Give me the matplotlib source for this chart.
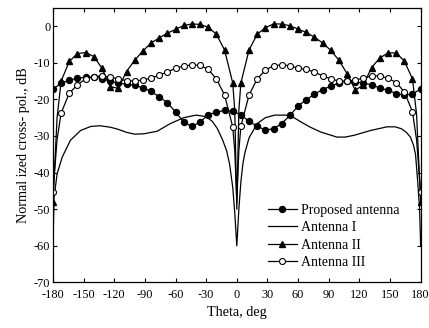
import numpy as np
import matplotlib
matplotlib.use("Agg")
import matplotlib.pyplot as plt

plt.rcParams['font.family'] = ['Liberation Serif', 'DejaVu Serif']
plt.rcParams['axes.unicode_minus'] = False

# Proposed antenna (markers every 8 deg)
th_p = [-180, -172, -164, -156, -148, -140, -132, -124, -116, -108, -100, -92, -84, -76,
        -68, -60, -52, -44, -36, -28, -20, -12, -4, 4, 12, 20, 28, 36, 44, 52, 60, 68,
        76, 84, 92, 100, 108, 116, 124, 132, 140, 148, 156, 164, 172, 180]
v_p = [-17.2, -15.6, -14.8, -14.2, -14.0, -13.9, -14.3, -15.0, -15.6, -15.8, -16.2, -16.8,
       -17.8, -19.3, -20.9, -23.4, -26.2, -27.4, -26.2, -24.2, -23.5, -23.0, -23.3, -24.2,
       -26.0, -27.3, -28.4, -28.0, -26.6, -24.4, -21.8, -20.1, -18.6, -17.3, -16.4, -15.5,
       -15.0, -15.2, -15.6, -16.0, -16.9, -17.5, -18.4, -18.8, -18.5, -17.2]

# Antenna I (no markers)
th_1 = [-180, -179, -176, -171, -163, -153, -143, -134, -124, -117, -108, -100, -91, -78,
        -65, -52, -40, -30, -24, -19, -14, -10, -7, -4, -2, 0, 2, 4, 6, 8, 12, 20, 28, 37,
        48, 56, 63, 72, 82, 98, 106, 115, 131, 147, 155, 161, 166, 170, 173, 175, 177, 179, 180]
v_1 = [-60, -47, -40.4, -35.8, -31.2, -28.5, -27.4, -27.2, -27.6, -28.1, -29.0, -29.5, -29.4,
       -28.7, -26.6, -25.0, -24.3, -24.7, -26.0, -28.0, -31.0, -34.0, -37.8, -44, -51, -60,
       -50, -42.5, -37.5, -34.5, -30.5, -26.6, -25.0, -24.3, -24.3, -25.0, -26.2, -27.6, -28.9,
       -30.3, -30.3, -29.8, -28.5, -27.5, -27.5, -28.0, -29.0, -30.3, -32.5, -35.0, -42, -50, -60]

# Antenna II (markers every 8 deg, extra points at the nulls)
th_2 = [-180, -176, -172, -164, -156, -148, -140, -132, -124, -116, -108, -100, -92, -84, -76,
        -68, -60, -52, -44, -36, -28, -20, -12, -4, -2, 0, 2, 4, 12, 20, 28, 36, 44, 52, 60, 68,
        76, 84, 92, 100, 108, 116, 124, 132, 140, 148, 156, 164, 172, 176, 180]
v_2 = [-48, -25, -15.0, -9.6, -7.5, -7.2, -8.3, -11.5, -16.5, -17.0, -12.4, -9.3, -6.8, -4.6,
       -3.2, -1.9, -0.9, 0.2, 0.6, 0.5, -0.3, -2.2, -6.5, -15.5, -23, -50, -23, -15.5, -6.5,
       -2.2, -0.4, 0.6, 0.6, 0.1, -0.8, -1.7, -3.0, -4.6, -6.6, -9.3, -13.0, -17.5, -16.0,
       -11.3, -8.7, -7.3, -7.3, -9.5, -14.4, -24, -48]

# Antenna III
th_3 = [-180, -176, -172, -164, -156, -148, -140, -132, -124, -116, -108, -100, -92, -84, -76,
        -68, -60, -52, -44, -36, -28, -20, -12, -4, -2, 0, 2, 4, 12, 20, 28, 36, 44, 52, 60, 68,
        76, 84, 92, 100, 108, 116, 124, 132, 140, 148, 156, 164, 172, 176, 180]
v_3 = [-45.4, -31, -23.7, -18.3, -16.0, -14.4, -13.8, -13.6, -13.9, -14.4, -14.9, -15.0, -14.7,
       -14.2, -13.4, -12.5, -11.5, -10.9, -10.6, -10.7, -11.8, -14.4, -18.8, -27.5, -34, -48,
       -34, -27.3, -18.8, -14.4, -12.0, -10.8, -10.6, -10.8, -11.5, -11.8, -12.5, -13.6, -14.4,
       -15.0, -15.0, -14.7, -14.2, -13.6, -13.6, -14.2, -15.4, -17.9, -23.4, -31, -45.4]


def marks(th):
    return [i for i, t in enumerate(th) if (t + 180) % 8 == 0]


fig = plt.figure(figsize=(4.29, 3.28), dpi=100)
ax = fig.add_axes([0.1235, 0.139, 0.857, 0.837])

lw = 0.9
ax.plot(th_p, v_p, color='k', lw=lw, marker='o', ms=4.3, markevery=marks(th_p),
        label='Proposed antenna')
ax.plot(th_1, v_1, color='k', lw=lw, label='Antenna I')
ax.plot(th_2, v_2, color='k', lw=lw, marker='^', ms=4.8, markevery=marks(th_2),
        label='Antenna II')
ax.plot(th_3, v_3, color='k', lw=lw, marker='o', ms=4.3, mfc='white', mew=0.8,
        markevery=marks(th_3), label='Antenna III')

ax.set_xlim(-180, 180)
ax.set_ylim(-70, 5)
ax.set_xticks(np.arange(-180, 181, 30))
ax.set_yticks(np.arange(-70, 1, 10))
ax.tick_params(direction='in', top=True, right=True, labelsize=8.8, length=3, width=0.8)
ax.tick_params(axis='x', pad=4.5)
ax.tick_params(axis='y', pad=2)
for s in ax.spines.values():
    s.set_linewidth(0.9)

ax.set_xlabel('Theta, deg', fontsize=10.2, labelpad=4)
ax.set_ylabel('Normal ized cross- pol., dB', fontsize=10.2, labelpad=3)

ax.legend(loc='lower right', bbox_to_anchor=(0.943, 0.05), frameon=False, fontsize=10,
          numpoints=1, handlelength=2.15, labelspacing=0.3, handletextpad=0.27,
          borderaxespad=0, borderpad=0)

fig.savefig('out.png', dpi=100)
